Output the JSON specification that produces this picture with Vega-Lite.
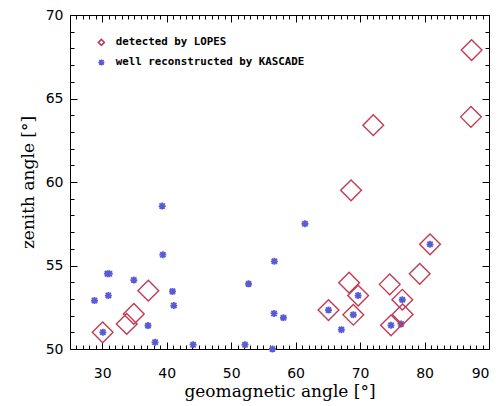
{
  "$schema": "https://vega.github.io/schema/vega-lite/v6.json",
  "autosize": "none",
  "width": 419,
  "height": 334,
  "padding": {"left": 70, "top": 15, "right": 10, "bottom": 57},
  "background": "white",
  "config": {"view": {"stroke": "#000000", "strokeWidth": 1}, "axis": {"domain": false, "labelFont": "DejaVu Sans", "labelFontSize": 14, "labelColor": "#000000", "titleFont": "DejaVu Serif", "titleFontSize": 17, "titleFontWeight": "normal", "titleColor": "#000000"}},
  "data": {"values": [
    {"g": 39.3, "z": 58.56, "s": "well reconstructed by KASCADE"},
    {"g": 39.4, "z": 55.65, "s": "well reconstructed by KASCADE"},
    {"g": 31.1, "z": 54.51, "s": "well reconstructed by KASCADE"},
    {"g": 30.8, "z": 54.51, "s": "well reconstructed by KASCADE"},
    {"g": 34.9, "z": 54.13, "s": "well reconstructed by KASCADE"},
    {"g": 28.8, "z": 52.9, "s": "well reconstructed by KASCADE"},
    {"g": 30.95, "z": 53.2, "s": "well reconstructed by KASCADE"},
    {"g": 40.9, "z": 53.45, "s": "well reconstructed by KASCADE"},
    {"g": 41.1, "z": 52.6, "s": "well reconstructed by KASCADE"},
    {"g": 37.1, "z": 51.4, "s": "well reconstructed by KASCADE"},
    {"g": 38.2, "z": 50.4, "s": "well reconstructed by KASCADE"},
    {"g": 44.1, "z": 50.26, "s": "well reconstructed by KASCADE"},
    {"g": 52.7, "z": 53.9, "s": "well reconstructed by KASCADE"},
    {"g": 52.15, "z": 50.26, "s": "well reconstructed by KASCADE"},
    {"g": 56.7, "z": 55.25, "s": "well reconstructed by KASCADE"},
    {"g": 61.45, "z": 57.5, "s": "well reconstructed by KASCADE"},
    {"g": 56.65, "z": 52.13, "s": "well reconstructed by KASCADE"},
    {"g": 58.1, "z": 51.87, "s": "well reconstructed by KASCADE"},
    {"g": 56.4, "z": 50.0, "s": "well reconstructed by KASCADE"},
    {"g": 67.1, "z": 51.16, "s": "well reconstructed by KASCADE"},
    {"g": 30.1, "z": 51.0, "s": "well reconstructed by KASCADE"},
    {"g": 65.1, "z": 52.33, "s": "well reconstructed by KASCADE"},
    {"g": 68.95, "z": 52.05, "s": "well reconstructed by KASCADE"},
    {"g": 69.7, "z": 53.2, "s": "well reconstructed by KASCADE"},
    {"g": 74.8, "z": 51.42, "s": "well reconstructed by KASCADE"},
    {"g": 76.35, "z": 51.5, "s": "well reconstructed by KASCADE"},
    {"g": 76.55, "z": 52.95, "s": "well reconstructed by KASCADE"},
    {"g": 80.85, "z": 56.27, "s": "well reconstructed by KASCADE"},
    {"g": 87.3, "z": 67.9, "s": "detected by LOPES"},
    {"g": 87.2, "z": 63.9, "s": "detected by LOPES"},
    {"g": 72.05, "z": 63.4, "s": "detected by LOPES"},
    {"g": 68.6, "z": 59.5, "s": "detected by LOPES"},
    {"g": 80.85, "z": 56.27, "s": "detected by LOPES"},
    {"g": 79.25, "z": 54.5, "s": "detected by LOPES"},
    {"g": 68.3, "z": 53.97, "s": "detected by LOPES"},
    {"g": 69.7, "z": 53.2, "s": "detected by LOPES"},
    {"g": 74.6, "z": 53.87, "s": "detected by LOPES"},
    {"g": 76.55, "z": 52.95, "s": "detected by LOPES"},
    {"g": 65.1, "z": 52.33, "s": "detected by LOPES"},
    {"g": 68.95, "z": 52.05, "s": "detected by LOPES"},
    {"g": 76.6, "z": 52.07, "s": "detected by LOPES"},
    {"g": 74.8, "z": 51.42, "s": "detected by LOPES"},
    {"g": 37.15, "z": 53.49, "s": "detected by LOPES"},
    {"g": 34.9, "z": 52.1, "s": "detected by LOPES"},
    {"g": 33.8, "z": 51.5, "s": "detected by LOPES"},
    {"g": 30.07, "z": 51.0, "s": "detected by LOPES"}
  ]},
  "encoding": {
    "x": {"field": "g", "type": "quantitative", "scale": {"domain": [25, 90], "nice": false, "zero": false}, "axis": {"orient": "bottom", "values": [26,27,28,29,30,31,32,33,34,35,36,37,38,39,40,41,42,43,44,45,46,47,48,49,50,51,52,53,54,55,56,57,58,59,60,61,62,63,64,65,66,67,68,69,70,71,72,73,74,75,76,77,78,79,80,81,82,83,84,85,86,87,88,89,90], "ticks": false, "tickSize": 0, "grid": true, "gridColor": "#000000", "gridOpacity": 1, "gridWidth": 1, "gridDash": {"condition": {"test": "datum.value % 10 === 0", "value": [7, 320]}, "value": [4, 326]}, "labelExpr": "datum.value % 10 === 0 ? datum.label : ''", "labelOverlap": false, "labelPadding": 17, "title": "geomagnetic angle [°]", "titlePadding": 3}},
    "y": {"field": "z", "type": "quantitative", "scale": {"domain": [50, 70], "nice": false, "zero": false}, "axis": {"orient": "left", "values": [50,51,52,53,54,55,56,57,58,59,60,61,62,63,64,65,66,67,68,69,70], "ticks": false, "tickSize": 0, "grid": true, "gridColor": "#000000", "gridOpacity": 1, "gridWidth": 1, "gridDash": {"condition": {"test": "datum.value % 5 === 0", "value": [7, 405]}, "value": [4, 411]}, "labelExpr": "datum.value % 5 === 0 ? datum.label : ''", "labelOverlap": false, "labelPadding": 7, "title": "zenith angle [°]", "titlePadding": 8}}
  },
  "layer": [
    {
      "transform": [{"filter": "datum.s == 'well reconstructed by KASCADE'"}],
      "mark": {"type": "point", "filled": false, "size": 49, "strokeWidth": 1.8, "opacity": 1},
      "encoding": {
        "color": {"field": "s", "type": "nominal", "scale": {"domain": ["detected by LOPES", "well reconstructed by KASCADE"], "range": ["#c23a55", "#5a5ad2"]}, "legend": {"title": null, "orient": "none", "legendX": 26, "legendY": 22, "symbolSize": 36, "symbolStrokeWidth": 1.5, "labelFont": "DejaVu Sans Mono", "labelFontWeight": "bold", "labelFontSize": 10.8, "labelColor": "#000000", "labelLimit": 400, "rowPadding": 7, "labelOffset": 9}},
        "shape": {"field": "s", "type": "nominal", "scale": {"domain": ["detected by LOPES", "well reconstructed by KASCADE"], "range": ["diamond", "M-1,0L1,0M0,-1L0,1M-0.75,-0.75L0.75,0.75M-0.75,0.75L0.75,-0.75"]}, "legend": {"title": null, "orient": "none", "legendX": 26, "legendY": 22, "symbolSize": 36, "symbolStrokeWidth": 1.5, "labelFont": "DejaVu Sans Mono", "labelFontWeight": "bold", "labelFontSize": 10.8, "labelColor": "#000000", "labelLimit": 400, "rowPadding": 7, "labelOffset": 9}}
      }
    },
    {
      "transform": [{"filter": "datum.s == 'detected by LOPES'"}],
      "mark": {"type": "point", "filled": false, "size": 430, "strokeWidth": 1.4, "opacity": 1},
      "encoding": {
        "color": {"field": "s", "type": "nominal"},
        "shape": {"field": "s", "type": "nominal"}
      }
    }
  ]
}
